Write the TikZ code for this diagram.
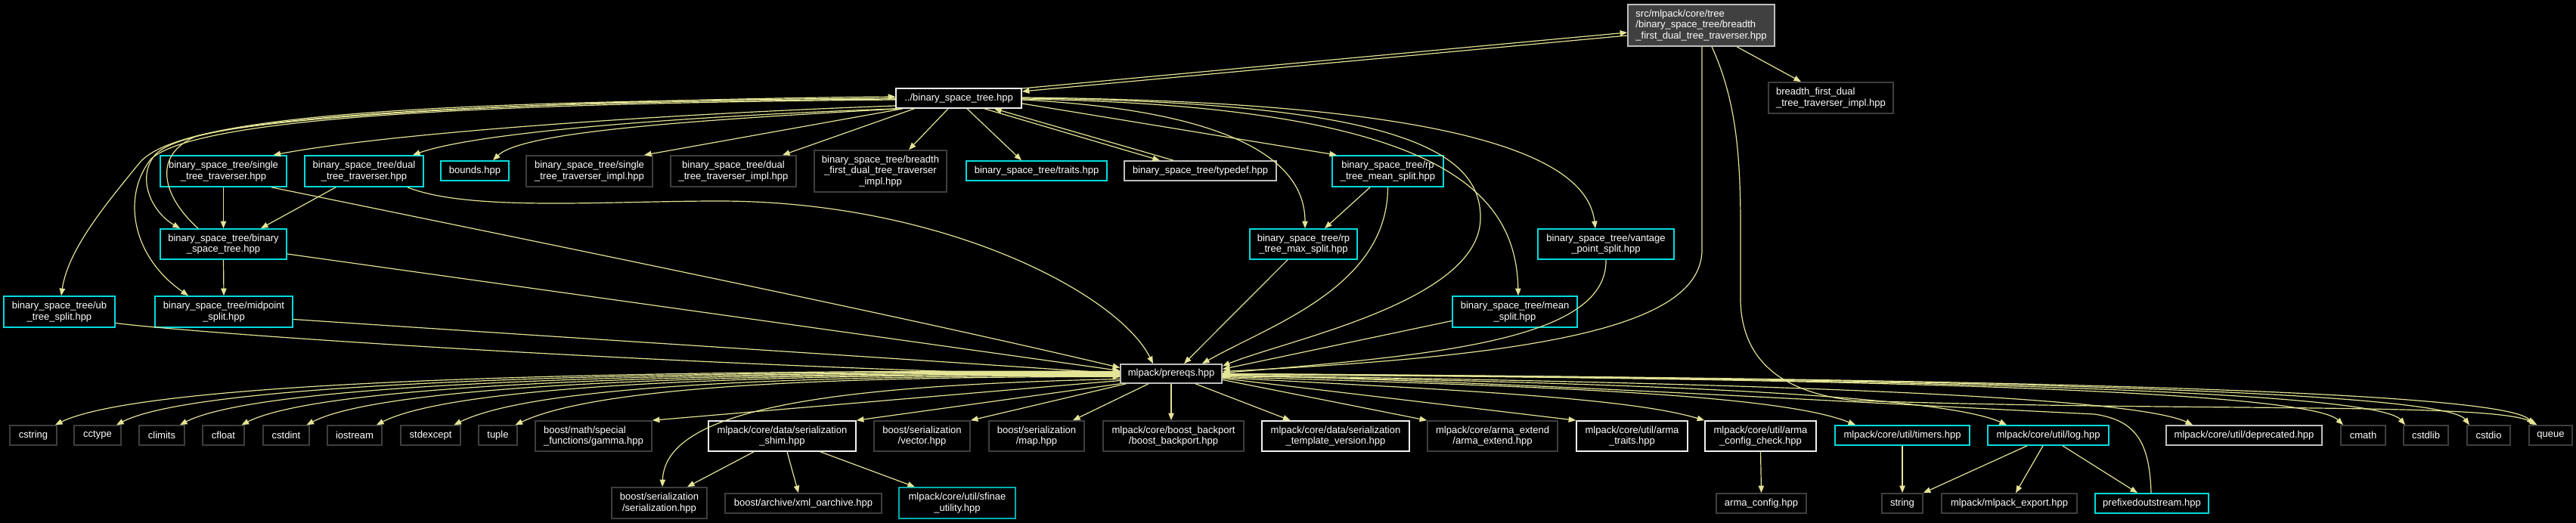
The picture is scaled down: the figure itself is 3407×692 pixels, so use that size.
\documentclass[tikz,border=0pt]{standalone}
\usepackage{fontspec}
\usetikzlibrary{arrows.meta}
\newfontfamily\nf{Liberation Sans}
\definecolor{edgec}{RGB}{228,228,150}
\definecolor{cyb}{RGB}{0,220,220}
\definecolor{tlb}{RGB}{0,175,175}
\definecolor{dgb}{RGB}{62,62,62}
\definecolor{whb}{RGB}{240,240,240}
\definecolor{lgb}{RGB}{190,190,190}
\definecolor{rootf}{RGB}{64,64,64}
\newcommand\fn[7]{\node[box,#6, minimum width={(#4-#2)*0.46023pt}, minimum height={(#5-#3)*0.46023pt}] (#1) at ({(#2+#4)/2},{(#3+#5)/2}) {#7};}
\begin{document}
\begin{tikzpicture}[x=0.46023pt,y=-0.46023pt,
  box/.style={draw, line width=0.75pt, fill=black, text=white, inner sep=0pt, align=center, font=\nf\fontsize{6}{6.6}\selectfont},
  cy/.style={draw=cyb}, tl/.style={draw=tlb}, gr/.style={draw=dgb}, wh/.style={draw=whb}, lg/.style={draw=lgb},
  rootst/.style={draw=lgb, fill=rootf, align=left},
  conn/.style={draw=edgec, line width=0.55pt, -{Triangle[length=4.4pt,width=3.4pt]}}]
\fill[black] (0,0) rectangle (3407,692);
\path[use as bounding box] (0,0) rectangle (3407,692);
% nodes
\fn{root}{2153}{6}{2347}{61}{rootst}{src/mlpack/core/tree\\/binary\_space\_tree/breadth\\\_first\_dual\_tree\_traverser.hpp}
\fn{bfimplR}{2339}{109}{2504}{150}{gr,align=left}{breadth\_first\_dual\\\_tree\_traverser\_impl.hpp}
\fn{bst}{1185}{117}{1351}{143}{wh}{../binary\_space\_tree.hpp}
\fn{single}{212}{206}{379}{247}{cy}{binary\_space\_tree/single\\\_tree\_traverser.hpp}
\fn{dual}{403}{206}{560}{247}{cy}{binary\_space\_tree/dual\\\_tree\_traverser.hpp}
\fn{bounds}{583}{213}{673}{239}{cy}{bounds.hpp}
\fn{singleimpl}{696}{206}{863}{247}{gr}{binary\_space\_tree/single\\\_tree\_traverser\_impl.hpp}
\fn{dualimpl}{887}{206}{1053}{247}{gr}{binary\_space\_tree/dual\\\_tree\_traverser\_impl.hpp}
\fn{bfimplM}{1077}{199}{1252}{254}{gr}{binary\_space\_tree/breadth\\\_first\_dual\_tree\_traverser\\\_impl.hpp}
\fn{traits}{1278}{213}{1464}{239}{cy}{binary\_space\_tree/traits.hpp}
\fn{typedef}{1487}{213}{1688}{239}{lg}{binary\_space\_tree/typedef.hpp}
\fn{rpmean}{1762}{206}{1909}{247}{cy}{binary\_space\_tree/rp\\\_tree\_mean\_split.hpp}
\fn{bstree}{212}{303}{379}{343}{cy}{binary\_space\_tree/binary\\\_space\_tree.hpp}
\fn{rpmax}{1653}{303}{1795}{343}{cy}{binary\_space\_tree/rp\\\_tree\_max\_split.hpp}
\fn{vantage}{2034}{303}{2214}{343}{cy}{binary\_space\_tree/vantage\\\_point\_split.hpp}
\fn{ub}{5}{392}{152}{433}{cy}{binary\_space\_tree/ub\\\_tree\_split.hpp}
\fn{midpoint}{205}{392}{387}{433}{cy}{binary\_space\_tree/midpoint\\\_split.hpp}
\fn{meansplit}{1921}{392}{2086}{433}{cy}{binary\_space\_tree/mean\\\_split.hpp}
\fn{prereqs}{1482}{482}{1616}{507}{lg}{mlpack/prereqs.hpp}
\fn{cstring}{13}{563}{75}{589}{gr}{cstring}
\fn{cctype}{98}{563}{160}{589}{gr}{cctype}
\fn{climits}{184}{563}{244}{589}{gr}{climits}
\fn{cfloat}{268}{563}{323}{589}{gr}{cfloat}
\fn{cstdint}{348}{563}{409}{589}{gr}{cstdint}
\fn{iostream}{433}{563}{505}{589}{gr}{iostream}
\fn{stdexcept}{530}{563}{609}{589}{gr}{stdexcept}
\fn{tuple}{633}{563}{684}{589}{gr}{tuple}
\fn{gamma}{708}{557}{862}{597}{gr,align=left}{boost/math/special\\\_functions/gamma.hpp}
\fn{shim}{937}{557}{1132}{597}{wh}{mlpack/core/data/serialization\\\_shim.hpp}
\fn{vector}{1156}{557}{1283}{597}{gr}{boost/serialization\\/vector.hpp}
\fn{map}{1308}{557}{1434}{597}{gr}{boost/serialization\\/map.hpp}
\fn{backport}{1459}{557}{1645}{597}{gr}{mlpack/core/boost\_backport\\/boost\_backport.hpp}
\fn{tmplver}{1669}{557}{1864}{597}{wh}{mlpack/core/data/serialization\\\_template\_version.hpp}
\fn{armaext}{1888}{557}{2060}{597}{gr}{mlpack/core/arma\_extend\\/arma\_extend.hpp}
\fn{armatraits}{2085}{557}{2232}{597}{wh}{mlpack/core/util/arma\\\_traits.hpp}
\fn{armacfgchk}{2255}{557}{2402}{597}{wh}{mlpack/core/util/arma\\\_config\_check.hpp}
\fn{timers}{2427}{563}{2605}{589}{cy}{mlpack/core/util/timers.hpp}
\fn{log}{2629}{563}{2789}{589}{cy}{mlpack/core/util/log.hpp}
\fn{deprecated}{2865}{563}{3071}{589}{lg}{mlpack/core/util/deprecated.hpp}
\fn{cmath}{3096}{563}{3155}{589}{gr}{cmath}
\fn{cstdlib}{3179}{563}{3238}{589}{gr}{cstdlib}
\fn{cstdio}{3263}{563}{3320}{589}{gr}{cstdio}
\fn{queue}{3345}{563}{3402}{589}{gr}{queue}
\fn{serial}{809}{645}{935}{686}{gr}{boost/serialization\\/serialization.hpp}
\fn{xml}{959}{653}{1166}{679}{gr}{boost/archive/xml\_oarchive.hpp}
\fn{sfinae}{1189}{645}{1343}{686}{tl}{mlpack/core/util/sfinae\\\_utility.hpp}
\fn{armacfg}{2270}{653}{2389}{679}{gr}{arma\_config.hpp}
\fn{string}{2489}{653}{2543}{679}{gr}{string}
\fn{export}{2568}{653}{2747}{679}{gr}{mlpack/mlpack\_export.hpp}
\fn{prefixed}{2771}{653}{2921}{679}{cy}{prefixedoutstream.hpp}
% root edges
\draw[conn] ([shift={(0,13.5)}]root.west) -- ([shift={(0,-9)}]bst.east);
\draw[conn] ([shift={(0,-13)}]bst.east) -- ([shift={(0,9.5)}]root.west);
\draw[conn] ([shift={(47,0)}]root.south) -- ([shift={(-39.5,0)}]bfimplR.north);
\draw[conn] ([shift={(1,0)}]root.south) -- (2251,330) .. controls (2251,430) and (2050,470) .. ([shift={(0,-3)}]prereqs.east);
\draw[conn] ([shift={(14,0)}]root.south) .. controls (2295,130) and (2302,200) .. (2302,300) -- (2302,400) .. controls (2305,480) and (2360,520) .. (2453,530) .. controls (2900,545) and (3300,532) .. ([shift={(-18,0)}]queue.north);
% bst edges
\draw[conn] ([shift={(0,10)}]bst.west) .. controls (900,150) and (520,175) .. ([shift={(66,0)}]single.north);
\draw[conn] ([shift={(3,0)}]bst.south west) .. controls (950,152) and (640,172) .. ([shift={(64.5,0)}]dual.north);
\draw[conn] ([shift={(6,0)}]bst.south west) .. controls (900,160) and (690,175) .. ([shift={(24,0)}]bounds.north);
\draw[conn] ([shift={(10,0)}]bst.south west) -- ([shift={(72.5,0)}]singleimpl.north);
\draw[conn] ([shift={(25,0)}]bst.south west) -- ([shift={(65,0)}]dualimpl.north);
\draw[conn] ([shift={(-14,0)}]bst.south) -- ([shift={(37.5,0)}]bfimplM.north);
\draw[conn] ([shift={(11,0)}]bst.south) -- ([shift={(-20,0)}]traits.north);
\draw[conn] ([shift={(34,0)}]bst.south) -- ([shift={(-53.5,0)}]typedef.north);
\draw[conn] ([shift={(-35.5,0)}]typedef.north) -- ([shift={(47,0)}]bst.south);
\draw[conn] ([shift={(0,7)}]bst.east) -- ([shift={(-67.5,0)}]rpmean.north);
\draw[conn] ([shift={(0,2)}]bst.east) .. controls (1600,145) and (1726,200) .. ([shift={(2,0)}]rpmax.north);
\draw[conn] ([shift={(0,1)}]bst.east) .. controls (1900,140) and (2005,250) .. ([shift={(4.5,0)}]meansplit.north);
\draw[conn] ([shift={(0,-1)}]bst.east) .. controls (1980,135) and (2100,220) .. ([shift={(-14,0)}]vantage.north);
\draw[conn] (bst.east) .. controls (1850,135) and (1960,200) .. (1958,290) .. controls (1955,400) and (1700,450) .. ([shift={(0,-10)}]prereqs.east);
\draw[conn] (bst.west) .. controls (600,133) and (240,150) .. (185,215) .. controls (140,270) and (90,330) .. ([shift={(2.5,0)}]ub.north);
\draw[conn] ([shift={(0,1)}]bst.west) .. controls (600,135) and (250,155) .. (205,205) .. controls (180,235) and (200,280) .. ([shift={(-57.5,0)}]bstree.north);
\draw[conn] ([shift={(0,2)}]bst.west) .. controls (600,137) and (260,158) .. (200,210) .. controls (160,260) and (175,340) .. ([shift={(-47,0)}]midpoint.north);
\draw[conn] ([shift={(-33.5,0)}]bstree.north) .. controls (215,260) and (200,205) .. (260,180) .. controls (400,145) and (900,130) .. ([shift={(0,-2)}]bst.west);
% tree files
\draw[conn] (single.south) -- (bstree.north);
\draw[conn] ([shift={(-37.5,0)}]dual.south) -- ([shift={(49.5,0)}]bstree.north);
\draw[conn] ([shift={(63.5,0)}]single.south) .. controls (800,338) and (1200,420) .. ([shift={(0,-8)}]prereqs.west);
\draw[conn] ([shift={(57.5,0)}]dual.south) .. controls (620,280) and (800,266) .. (950,266) .. controls (1250,266) and (1480,390) .. ([shift={(-24,0)}]prereqs.north);
\draw[conn] (bstree.south) -- (midpoint.north);
\draw[conn] ([shift={(0,13)}]bstree.east) -- ([shift={(0,-4)}]prereqs.west);
\draw[conn] ([shift={(0,10)}]midpoint.east) .. controls (800,450) and (1200,475) .. (prereqs.west);
\draw[conn] ([shift={(0,15)}]ub.east) .. controls (250,440) and (800,480) .. ([shift={(0,4)}]prereqs.west);
\draw[conn] ([shift={(-23.5,0)}]rpmean.south) -- ([shift={(28,0)}]rpmax.north);
\draw[conn] (rpmean.south) .. controls (1835,380) and (1680,430) .. ([shift={(41,0)}]prereqs.north);
\draw[conn] ([shift={(-21,0)}]rpmax.south) -- ([shift={(17,0)}]prereqs.north);
\draw[conn] ([shift={(0,12)}]meansplit.west) -- ([shift={(0,-6)}]prereqs.east);
\draw[conn] (vantage.south) .. controls (2126,450) and (1900,470) .. ([shift={(0,-1)}]prereqs.east);
\draw[conn] ([shift={(-1,0)}]prefixed.north) .. controls (2843,585) and (2825,556) .. (2770,548) .. controls (2400,530) and (2000,505) .. ([shift={(0,2)}]prereqs.east);
% prereqs to left
\draw[conn] ([shift={(0,-3)}]prereqs.west) .. controls (900,489) and (200,500) .. ([shift={(29,0)}]cstring.north);
\draw[conn] ([shift={(0,-2)}]prereqs.west) .. controls (920,490) and (270,502) .. ([shift={(25,0)}]cctype.north);
\draw[conn] ([shift={(0,-1)}]prereqs.west) .. controls (940,491) and (350,504) .. ([shift={(24,0)}]climits.north);
\draw[conn] (prereqs.west) .. controls (960,492) and (430,506) .. ([shift={(24,0)}]cfloat.north);
\draw[conn] ([shift={(0,1)}]prereqs.west) .. controls (980,493) and (510,508) .. ([shift={(27,0)}]cstdint.north);
\draw[conn] ([shift={(0,2)}]prereqs.west) .. controls (1000,494) and (600,510) .. ([shift={(29,0)}]iostream.north);
\draw[conn] ([shift={(0,3)}]prereqs.west) .. controls (1020,496) and (700,513) .. ([shift={(31,0)}]stdexcept.north);
\draw[conn] ([shift={(0,4)}]prereqs.west) .. controls (1040,498) and (780,516) .. ([shift={(23,0)}]tuple.north);
\draw[conn] ([shift={(0,9)}]prereqs.west) -- (gamma.north east);
\draw[conn] ([shift={(0,7)}]prereqs.west) .. controls (1100,510) and (880,540) .. ([shift={(4,0)}]serial.north);
\draw[conn] (prereqs.south west) -- (shim.north east);
\draw[conn] ([shift={(8,0)}]prereqs.south west) -- (vector.north east);
\draw[conn] ([shift={(-30,0)}]prereqs.south) -- ([shift={(48,0)}]map.north);
\draw[conn] (prereqs.south) -- ([shift={(-3,0)}]backport.north);
\draw[conn] ([shift={(32,0)}]prereqs.south) -- ([shift={(-60,0)}]tmplver.north);
% prereqs to right
\draw[conn] ([shift={(0,8)}]prereqs.east) -- (armaext.north west);
\draw[conn] ([shift={(0,6)}]prereqs.east) -- (armatraits.north west);
\draw[conn] ([shift={(0,5)}]prereqs.east) .. controls (1900,515) and (2150,525) .. (armacfgchk.north west);
\draw[conn] ([shift={(0,4)}]prereqs.east) .. controls (2000,510) and (2350,520) .. ([shift={(-62,0)}]timers.north);
\draw[conn] ([shift={(0,3)}]prereqs.east) .. controls (2100,505) and (2560,520) .. ([shift={(-55,0)}]log.north);
\draw[conn] ([shift={(0,2)}]prereqs.east) .. controls (2200,505) and (2810,520) .. ([shift={(-68,0)}]deprecated.north);
\draw[conn] ([shift={(0,1)}]prereqs.east) .. controls (2400,500) and (3050,515) .. ([shift={(-26.5,0)}]cmath.north);
\draw[conn] ([shift={(0,1)}]prereqs.east) .. controls (2450,500) and (3140,515) .. ([shift={(-27.5,0)}]cstdlib.north);
\draw[conn] (prereqs.east) .. controls (2500,500) and (3230,515) .. ([shift={(-25.5,0)}]cstdio.north);
\draw[conn] (prereqs.east) .. controls (2550,500) and (3310,515) .. ([shift={(-22.5,0)}]queue.north);
% lower
\draw[conn] ([shift={(-37.5,0)}]shim.south) -- ([shift={(37,0)}]serial.north);
\draw[conn] ([shift={(6.5,0)}]shim.south) -- ([shift={(-6.5,0)}]xml.north);
\draw[conn] ([shift={(50.5,0)}]shim.south) -- ([shift={(-56,0)}]sfinae.north);
\draw[conn] (armacfgchk.south) -- (armacfg.north);
\draw[conn] (timers.south) -- (string.north);
\draw[conn] ([shift={(-28,0)}]log.south) -- (string.north east);
\draw[conn] ([shift={(-7,0)}]log.south) -- ([shift={(8.5,0)}]export.north);
\draw[conn] ([shift={(19,0)}]log.south) -- ([shift={(-19,0)}]prefixed.north);
\end{tikzpicture}
\end{document}
